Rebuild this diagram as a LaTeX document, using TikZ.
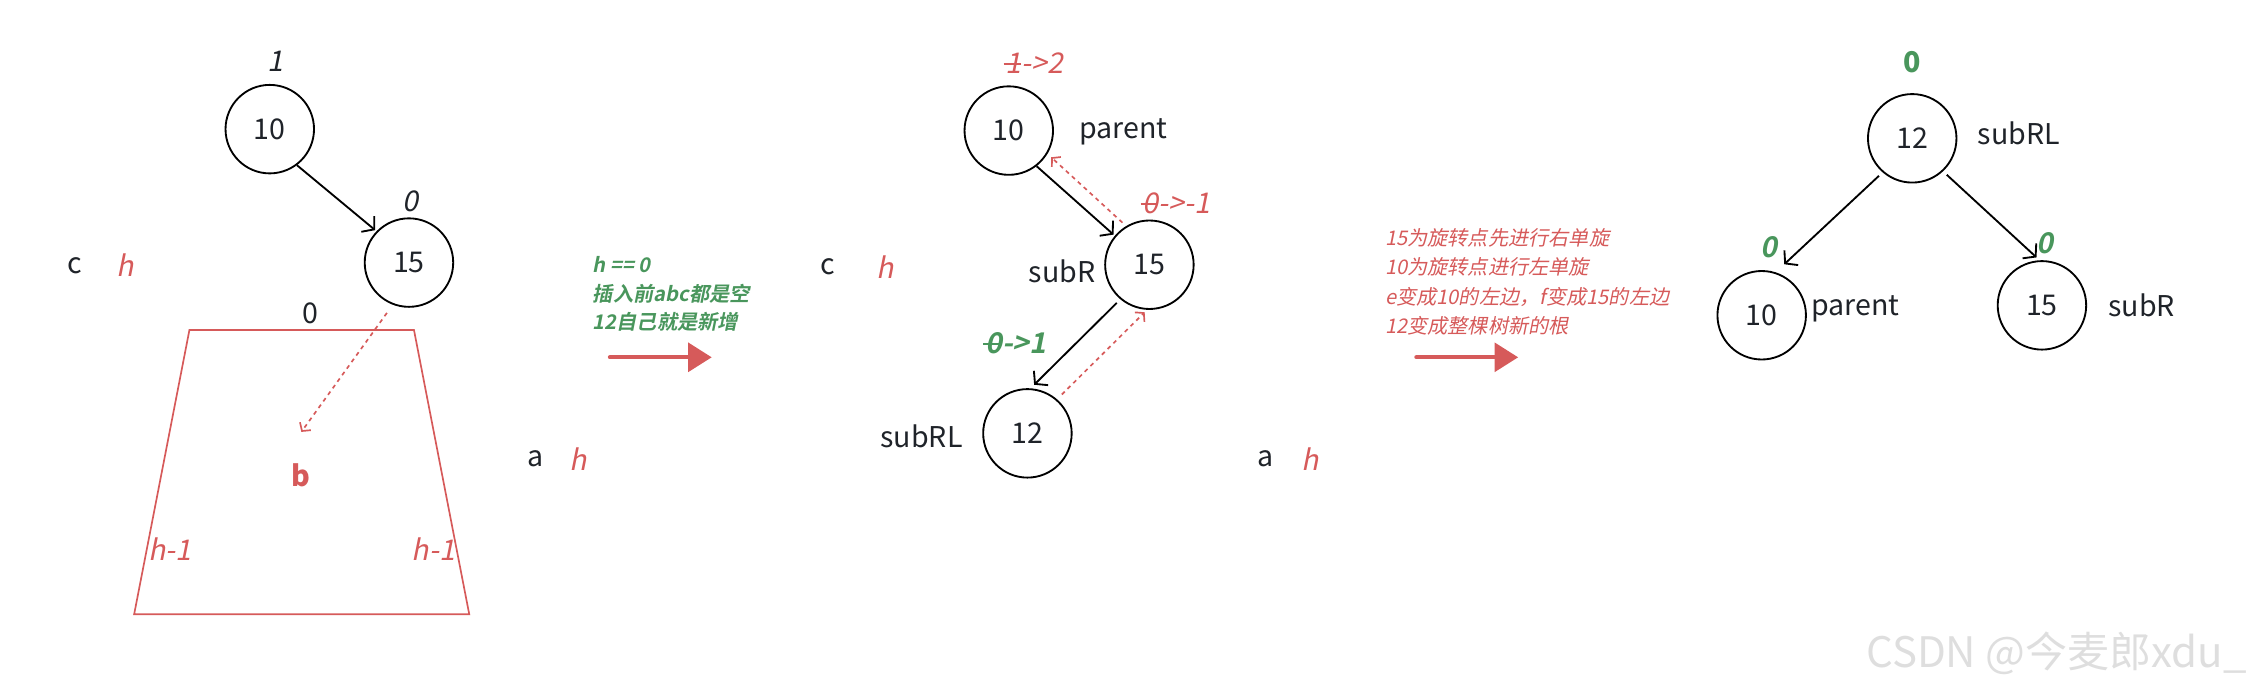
\documentclass[tikz,border=0pt]{standalone}
\usepackage{fontspec}
\setmainfont{Noto Sans CJK SC}[
    ItalicFont={Noto Sans CJK SC}, ItalicFeatures={FakeSlant=0.2},
    BoldItalicFont={Noto Sans CJK SC Bold}, BoldItalicFeatures={FakeSlant=0.2}]
\usetikzlibrary{arrows.meta, positioning}
\definecolor{ink}{RGB}{31,35,41}
\definecolor{hred}{RGB}{214,90,90}
\definecolor{hgreen}{RGB}{73,150,92}
\newcommand{\struck}[1]{\makebox[0pt][l]{\kern-0.08em\raisebox{0.3em}{\rule{0.62em}{0.06em}}}#1}

\begin{document}
\begin{tikzpicture}[x=0.03cm, y=-0.03cm,
        treenode/.style={draw, circle, line width=1.1pt, minimum size=1.85cm, inner sep=0pt, text=ink, font=\fontsize{17}{20}\selectfont},
        tagtext/.style={inner sep=0pt, text=ink, font=\fontsize{17}{20}\selectfont},
        hmark/.style={inner sep=0pt, text=hred, font=\fontsize{17}{20}\selectfont\itshape},
        bal/.style={inner sep=0pt, text=ink, font=\fontsize{17}{20}\selectfont\itshape},
        link/.style={line width=1.1pt, -{Straight Barb[length=5pt, width=12pt]}},
        back/.style={hred, line width=1pt, dash pattern=on 2.4pt off 2.4pt, -{Straight Barb[length=3.5pt, width=8pt]}},
        bigarrow/.style={hred, line width=2.4pt, line cap=round, -{Triangle[length=14pt, width=17pt]}},
        note/.style={inner sep=0pt, align=left, anchor=west, font=\fontsize{12}{17.4}\selectfont\itshape}
    ]
    \useasboundingbox (0,0) rectangle (1568,483);

    % before insertion
        \node[treenode] (lten) at (188,90) {10};
        \node[treenode] (lfift) at (285,183) {15};
        \node[bal] (lbalten) at (192,43) {1};
        \node[bal] (lbalfift) at (286,140) {0};
        \node[tagtext] (lc) at (52,185) {c};
        \node[hmark] (lch) at (87,185) {h};
        \node[tagtext] (lzero) at (216,218) {0};
        \node[tagtext, text=hred, font=\fontsize{17}{20}\selectfont\bfseries] (lb) at (210,331) {b};
        \coordinate[above=0.65cm of lb] (bhead);
        \node[hmark] (lhl) at (118.5,383) {h-1};
        \node[hmark] (lhr) at (302,383) {h-1};
        \node[tagtext] (la) at (373,320) {a};
        \node[hmark] (lah) at (403,320) {h};
        \draw[hred, line width=1pt] (132,230) -- (288.5,230) -- (327,428) -- (93.5,428) -- cycle;

        \draw[link, shorten >=1pt] (lten.-53) -- (lfift.136);
        \draw[back, shorten <=6pt] (lfift.249) -- (bhead);

    % insert 12
        \node[note, text=hgreen, font=\fontsize{12}{17}\selectfont\bfseries\itshape] (why) at (413,205) {h == 0\\插入前abc都是空\\12自己就是新增};
        \coordinate (goa) at (425,249);
        \coordinate (gob) at (496,249);
        \draw[bigarrow] (goa) -- (gob);

    % after insertion
        \node[treenode] (mten) at (703,91) {10};
        \node[treenode] (mfift) at (801,184.5) {15};
        \node[treenode] (mtwelve) at (716,302) {12};
        \node[bal, text=hred] (mbalten) at (721,44) {\struck{1}->2};
        \node[bal, text=hred] (mbalfift) at (820,141.5) {\struck{0}->-1};
        \node[bal, text=hgreen, font=\fontsize{17}{20}\selectfont\bfseries\itshape] (mbaltwelve) at (708,239) {\struck{0}->1};
        \node[tagtext, anchor=west] (mparent) at (752,92) {parent};
        \node[tagtext, anchor=east] (msubr) at (763.5,189) {subR};
        \node[tagtext, anchor=east] (msubrl) at (671,304) {subRL};
        \node[tagtext] (mc) at (577,186) {c};
        \node[hmark] (mch) at (617,186) {h};
        \node[tagtext] (ma) at (882,320) {a};
        \node[hmark] (mah) at (913,320) {h};

        \draw[link, shorten >=1pt] (mten.-52) -- (mfift.140);
        \draw[link, shorten <=3pt, shorten >=3pt] (mfift.230) -- (mtwelve.86);
        \draw[back, shorten <=3pt, shorten >=3pt] (mfift.121) -- (mten.-31);
        \draw[back, shorten <=4pt, shorten >=2pt] (mtwelve.49) -- (mfift.-93);

    % double rotation
        \node[note, text=hred] (how) at (965,196.5) {15为旋转点先进行右单旋\\10为旋转点进行左单旋\\e变成10的左边，f变成15的左边\\12变成整棵树新的根};
        \coordinate (gob1) at (987,249);
        \coordinate (gob2) at (1058,249);
        \draw[bigarrow] (gob1) -- (gob2);

    % after rotation
        \node[treenode] (rtwelve) at (1332.6,96.4) {12};
        \node[treenode] (rten) at (1227.7,219.7) {10};
        \node[treenode] (rfift) at (1423,212.8) {15};
        \node[tagtext, text=hgreen, font=\fontsize{17}{20}\selectfont\bfseries] (rbaltwelve) at (1332.6,43) {0};
        \node[bal, text=hgreen, font=\fontsize{17}{20}\selectfont\bfseries\itshape] (rbalten) at (1233,172) {0};
        \node[bal, text=hgreen, font=\fontsize{17}{20}\selectfont\bfseries\itshape] (rbalfift) at (1425,169.6) {0};
        \node[tagtext, anchor=west] (rsubrl) at (1378,93) {subRL};
        \node[tagtext, anchor=west] (rparent) at (1262,215) {parent};
        \node[tagtext, anchor=west] (rsubr) at (1469,212.5) {subR};

        \draw[link, shorten <=3pt, shorten >=7pt] (rtwelve.229) -- (rten.72);
        \draw[link, shorten <=3pt, shorten >=2.5pt] (rtwelve.-47) -- (rfift.93);

        \node[inner sep=0pt, anchor=east, text=black!13, font=\fontsize{25}{28}\selectfont] (mark) at (1566,455) {CSDN @今麦郎xdu\_};
\end{tikzpicture}
\end{document}
